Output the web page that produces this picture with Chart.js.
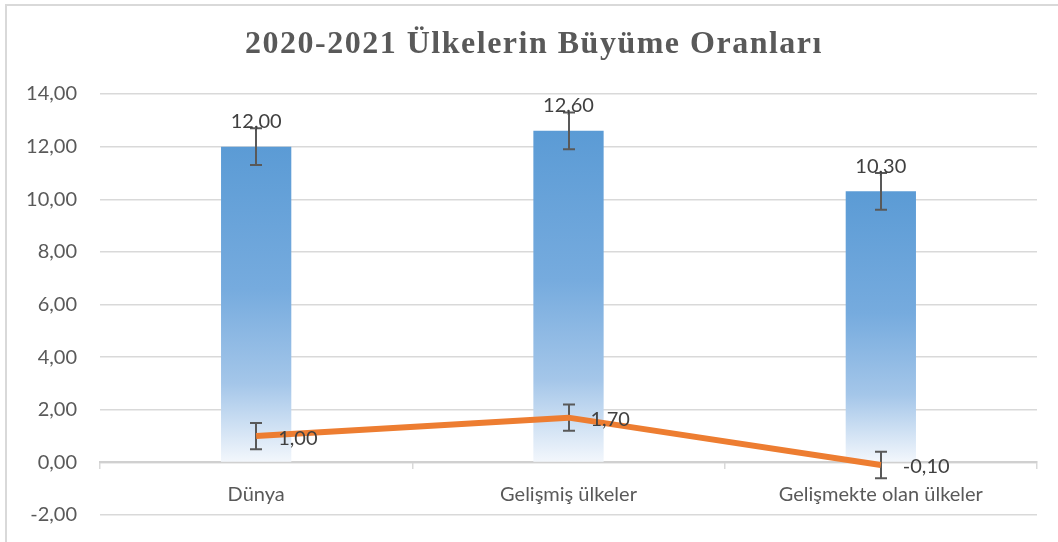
<!DOCTYPE html>
<html>
<head>
<meta charset="utf-8">
<script src="https://cdn.jsdelivr.net/npm/chart.js@4"></script>
<style>
  html, body { margin: 0; padding: 0; background: #fff; }
  #wrap { position: relative; width: 1058px; height: 542px; overflow: hidden; }
  #frame { position: absolute; left: 5px; top: 4px; width: 1100px; height: 600px;
           border-left: 2px solid #D9D9D9; border-top: 2px solid #D9D9D9; pointer-events: none; }
  canvas { position: absolute; left: 0; top: 0; }
</style>
</head>
<body>
<div id="wrap">
  <div id="frame"></div>
  <canvas id="canvas1" width="1058" height="542"></canvas>
</div>
<script>
const titleText = "2020-2021 Ülkelerin Büyüme Oranları";
const categories = ["Dünya", "Gelişmiş ülkeler", "Gelişmekte olan ülkeler"];
const barValues = [12.00, 12.60, 10.30];
const barErrors = [0.7, 0.7, 0.7];
const lineValues = [1.00, 1.70, -0.10];
const lineErrors = [0.5, 0.5, 0.5];
const yMin = -2;
const yMax = 14;
const yStep = 2;

const fmt = v => v.toFixed(2).replace(".", ",");

// blue gradient from bar top down to the zero line
function barGradient(ctx) {
  const chart = ctx.chart;
  if (!chart.chartArea) return "#5B9BD5";
  const y = chart.scales.y;
  const top = y.getPixelForValue(ctx.raw);
  const base = y.getPixelForValue(0);
  const g = chart.ctx.createLinearGradient(0, top, 0, base);
  g.addColorStop(0, "#5B9BD5");
  g.addColorStop(0.45, "#76ABDE");
  g.addColorStop(0.75, "#A4C6E9");
  g.addColorStop(1, "#F3F7FC");
  return g;
}

function drawErrors(chart, index, errors) {
  const meta = chart.getDatasetMeta(index);
  const values = chart.data.datasets[index].data;
  const y = chart.scales.y;
  const c = chart.ctx;
  c.save();
  c.strokeStyle = "#595959";
  c.lineWidth = 2;
  meta.data.forEach((el, i) => {
    const x = Math.round(el.x);
    const y1 = y.getPixelForValue(values[i] + errors[i]);
    const y2 = y.getPixelForValue(values[i] - errors[i]);
    c.beginPath();
    c.moveTo(x, y1); c.lineTo(x, y2);
    c.moveTo(x - 6, y1); c.lineTo(x + 6, y1);
    c.moveTo(x - 6, y2); c.lineTo(x + 6, y2);
    c.stroke();
  });
  c.restore();
}

const errorBars = {
  id: "errorBars",
  afterDatasetDraw(chart, args) {
    if (args.index === 0) drawErrors(chart, 0, barErrors);
  },
  beforeDatasetDraw(chart, args) {
    if (args.index === 1) drawErrors(chart, 1, lineErrors);
  }
};

const valueLabels = {
  id: "valueLabels",
  afterDatasetsDraw(chart) {
    const c = chart.ctx;
    c.save();
    c.font = "20px Lato";
    c.fillStyle = "#404040";
    c.textBaseline = "middle";
    const bars = chart.getDatasetMeta(0).data;
    c.textAlign = "center";
    bars.forEach((el, i) => c.fillText(fmt(barValues[i]), el.x, el.y - 25));
    const pts = chart.getDatasetMeta(1).data;
    c.textAlign = "left";
    pts.forEach((el, i) => c.fillText(fmt(lineValues[i]), el.x + 22, el.y + 2));
    c.restore();
  }
};

const chartTitle = {
  id: "chartTitle",
  afterDraw(chart) {
    const c = chart.ctx;
    c.save();
    c.font = "bold 32px 'Liberation Serif'";
    c.fillStyle = "#595959";
    c.textAlign = "center";
    c.textBaseline = "middle";
    c.letterSpacing = "1.5px";
    c.fillText(titleText, 534, 45);
    c.restore();
  }
};

const canvas = document.getElementById("canvas1");

new Chart(canvas, {
  type: "bar",
  data: {
    labels: categories,
    datasets: [{
      label: "2021",
      data: barValues,
      backgroundColor: barGradient,
      categoryPercentage: 1,
      barPercentage: 0.225,
      order: 1
    }, {
      type: "line",
      label: "2020",
      data: lineValues,
      borderColor: "#ED7D31",
      borderWidth: 6,
      pointRadius: 0,
      tension: 0,
      order: 0
    }]
  },
  options: {
    responsive: false,
    animation: false,
    layout: { padding: { left: 0, right: 21, top: 94, bottom: 27 } },
    plugins: {
      legend: { display: false },
      tooltip: { enabled: false },
      title: { display: false }
    },
    scales: {
      x: {
        position: { y: 0 },
        afterFit: scale => { scale.height = 0; },
        grid: { display: true, drawOnChartArea: false, drawTicks: true, tickLength: 6, color: "#D9D9D9", lineWidth: 1.5 },
        border: { display: true, color: "#D0D0D0", width: 2 },
        ticks: { padding: 14, color: "#595959", font: { family: "Lato", size: 20 } }
      },
      y: {
        min: yMin,
        max: yMax,
        afterFit: scale => {
          scale.width = 100;
          scale.paddingTop = 12;
          scale.paddingBottom = 12;
        },
        grid: { color: "#D9D9D9", lineWidth: 1.5, drawTicks: false },
        border: { display: false },
        ticks: {
          stepSize: yStep,
          padding: 23,
          color: "#595959",
          font: { family: "Lato", size: 20 },
          callback: v => fmt(v)
        }
      }
    }
  },
  plugins: [errorBars, valueLabels, chartTitle]
});
</script>
</body>
</html>
